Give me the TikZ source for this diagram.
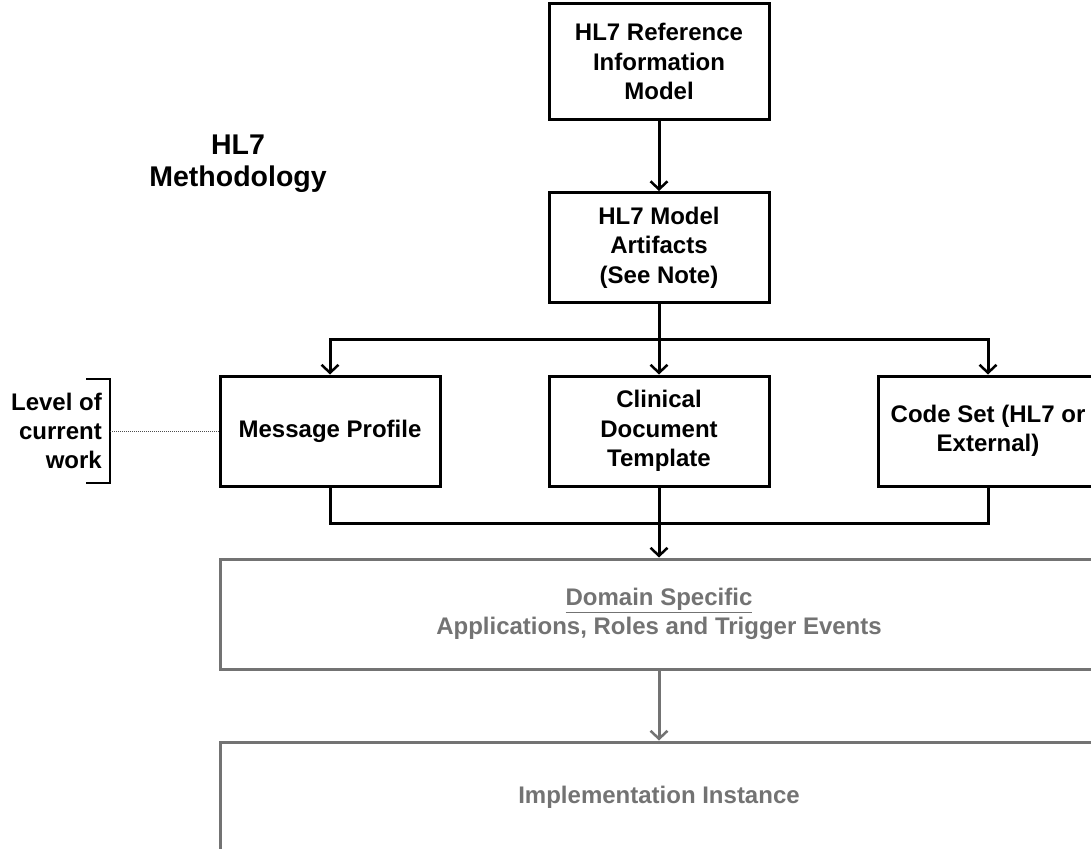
\documentclass[tikz,border=0pt]{standalone}
\usepackage{fontspec}
\setmainfont{Liberation Sans}
\usepackage{xcolor}
\usetikzlibrary{arrows.meta,positioning}
\definecolor{boxgray}{RGB}{115,115,115}

\tikzset{
  hlbox/.style={draw, line width=3pt, minimum width=220pt, minimum height=110pt,
    inner sep=0pt, align=center, font=\fontsize{24}{29.5}\selectfont\bfseries},
  graybox/.style={hlbox, draw=boxgray, text=boxgray, minimum width=878pt},
  flow/.style={line width=3pt, -{Straight Barb[length=8pt,width=17pt,line width=2.5pt]}},
  plainline/.style={line width=3pt},
  sidetext/.style={font=\fontsize{24}{29}\selectfont\bfseries}
}

\begin{document}
\begin{tikzpicture}[x=1pt,y=-1pt]

  \useasboundingbox (0,0) rectangle (1091,848);
  \clip (0,0) rectangle (1091,848);

  % boxes
  \node[hlbox, minimum height=116pt] (rim) at (659,61.5) {HL7 Reference\\Information\\Model};
  \node[hlbox] (art) at (659,247.5) {HL7 Model\\Artifacts\\(See Note)};
  \node[hlbox] (msg) at (330,431) {Message Profile};
  \node[hlbox] (cda) at (659,431) {Clinical\\Document\\Template};
  \node[hlbox] (code) at (988,431) {Code Set (HL7 or\\External)};
  \node[graybox] (dom) at (659,614) {\underline{Domain Specific}\\Applications, Roles and Trigger Events};
  \node[graybox] (impl) at (659,797) {Implementation Instance};

  % side texts
  \node[font=\fontsize{28.5}{32}\selectfont\bfseries, align=center] (meth) at (238,164) {HL7\\Methodology};
  \node[sidetext, align=right, anchor=east, inner sep=0pt] (level) at (102,431) {Level of\\current\\work};

  % bracket
  \coordinate (brtop) at (110,379);
  \coordinate (brbot) at (110,483);
  \coordinate (brmid) at (110,431);
  \draw[line width=1.2pt] (86,379) -- (brtop) -- (brbot) -- (86,483);
  \draw[densely dotted, line width=1pt, black!70] (brmid) -- (msg.west);

  % connectors
  \draw[flow] (rim) -- (art);
  \coordinate (split) at (659,339);
  \draw[plainline] (art.south) -- (split);
  \draw[flow] (split) -| (msg.north);
  \draw[flow] (split) -- (cda.north);
  \draw[flow] (split) -| (code.north);
  \coordinate (join) at (659,523);
  \draw[plainline] (msg.south) |- (join);
  \draw[plainline] (code.south) |- (join);
  \draw[plainline] (cda.south) -- (join);
  \draw[flow] (join) -- (dom.north);
  \draw[flow, draw=boxgray] (dom) -- (impl);

\end{tikzpicture}
\end{document}
